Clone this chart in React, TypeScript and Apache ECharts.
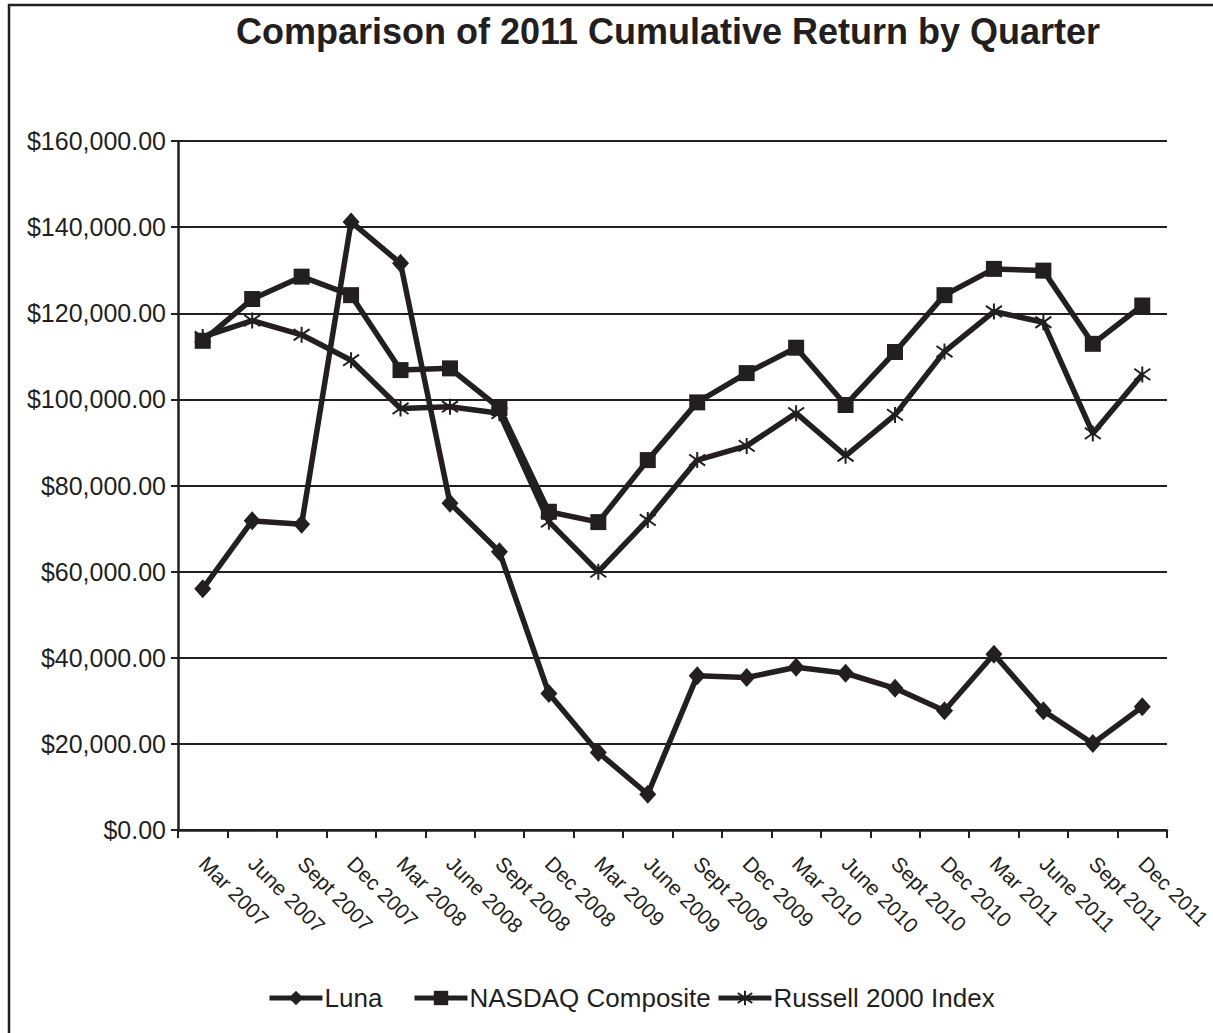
import React, { useEffect, useRef } from "react";
import * as echarts from "echarts";

const categories = [
  "Mar 2007", "June 2007", "Sept 2007", "Dec 2007",
  "Mar 2008", "June 2008", "Sept 2008", "Dec 2008",
  "Mar 2009", "June 2009", "Sept 2009", "Dec 2009",
  "Mar 2010", "June 2010", "Sept 2010", "Dec 2010",
  "Mar 2011", "June 2011", "Sept 2011", "Dec 2011",
];

const luna = [
  56000, 71800, 71000, 141200, 131600, 75900, 64600, 31700, 18000, 8300,
  35800, 35400, 37800, 36400, 32900, 27700, 40800, 27700, 20100, 28600,
];

const nasdaq = [
  113600, 123300, 128500, 124200, 106800, 107200, 98000, 73900, 71500, 85900,
  99300, 106100, 112000, 98700, 111000, 124200, 130300, 129900, 112900, 121800,
];

const russell = [
  114500, 118300, 115000, 109100, 97900, 98300, 96800, 71600, 60000, 72000,
  85900, 89200, 96800, 86900, 96400, 111100, 120400, 117900, 92100, 105800,
];

const seriesNames = ["Luna", "NASDAQ Composite", "Russell 2000 Index"];

const INK = "#231f20";
const FONT = "'Liberation Sans', Arial, Helvetica, sans-serif";
const ASTERISK = "path://M10 0L10 20M2 3L18 17M18 3L2 17";

export default function App() {
  const ref = useRef<HTMLDivElement>(null);

  useEffect(() => {
    if (!ref.current) return;
    const chart = echarts.init(ref.current, undefined, { renderer: "svg" });

    const legendStyle = {
      top: 985,
      padding: 0,
      itemWidth: 53,
      itemHeight: 18,
      lineStyle: { width: 5 },
      textStyle: { color: INK, fontSize: 26, fontFamily: FONT, padding: [0, 0, 0, -3] },
    };

    chart.setOption({
      animation: false,
      backgroundColor: "#ffffff",
      title: {
        text: "Comparison of 2011 Cumulative Return by Quarter",
        left: 668,
        top: 13,
        padding: 0,
        textAlign: "center",
        textStyle: { color: INK, fontSize: 36, fontWeight: "bold", fontFamily: FONT },
      },
      graphic: [
        {
          type: "polyline",
          z: -10,
          shape: { points: [[9, 1100], [9, 5], [1300, 5]] },
          style: { fill: "none", stroke: INK, lineWidth: 2.5 },
        },
      ],
      legend: [
        { ...legendStyle, left: 267, data: [seriesNames[0]] },
        { ...legendStyle, left: 412, data: [seriesNames[1]] },
        { ...legendStyle, left: 716, data: [seriesNames[2]] },
      ],
      grid: {
        left: 178,
        right: 46,
        top: 141,
        bottom: 203,
        containLabel: false,
        outerBoundsMode: "none",
      },
      xAxis: {
        type: "category",
        data: categories,
        boundaryGap: true,
        axisLine: { show: true, lineStyle: { color: INK, width: 2.5 } },
        axisTick: { show: true, interval: 0, length: 8, alignWithLabel: false, lineStyle: { color: INK, width: 2 } },
        axisLabel: {
          interval: 0,
          rotate: -45,
          margin: 30,
          color: INK,
          fontSize: 21,
          fontFamily: FONT,
        },
        splitLine: { show: false },
      },
      yAxis: {
        type: "value",
        min: 0,
        max: 160000,
        interval: 20000,
        axisLine: { show: true, lineStyle: { color: INK, width: 2.5 } },
        axisTick: { show: true, length: 7, lineStyle: { color: INK, width: 2 } },
        axisLabel: {
          margin: 12,
          color: INK,
          fontSize: 25,
          fontFamily: FONT,
          formatter: (v: number) =>
            "$" + v.toLocaleString("en-US", { minimumFractionDigits: 2, maximumFractionDigits: 2 }),
        },
        splitLine: { show: true, lineStyle: { color: INK, width: 2 } },
      },
      series: [
        {
          name: seriesNames[0],
          type: "line",
          data: luna,
          symbol: "diamond",
          symbolSize: [17, 19],
          color: INK,
          lineStyle: { color: INK, width: 5.5 },
          itemStyle: { color: INK, borderWidth: 0 },
        },
        {
          name: seriesNames[1],
          type: "line",
          data: nasdaq,
          symbol: "rect",
          symbolSize: 16,
          color: INK,
          lineStyle: { color: INK, width: 5.5 },
          itemStyle: { color: INK, borderWidth: 0 },
        },
        {
          name: seriesNames[2],
          type: "line",
          data: russell,
          symbol: ASTERISK,
          symbolSize: 16,
          color: INK,
          lineStyle: { color: INK, width: 5.5 },
          itemStyle: { color: INK, borderColor: INK, borderWidth: 2 },
        },
      ],
    });

    return () => chart.dispose();
  }, []);

  return (
    <div
      ref={ref}
      style={{ position: "absolute", left: 0, top: 0, width: 1213, height: 1033, background: "#fff" }}
    />
  );
}
